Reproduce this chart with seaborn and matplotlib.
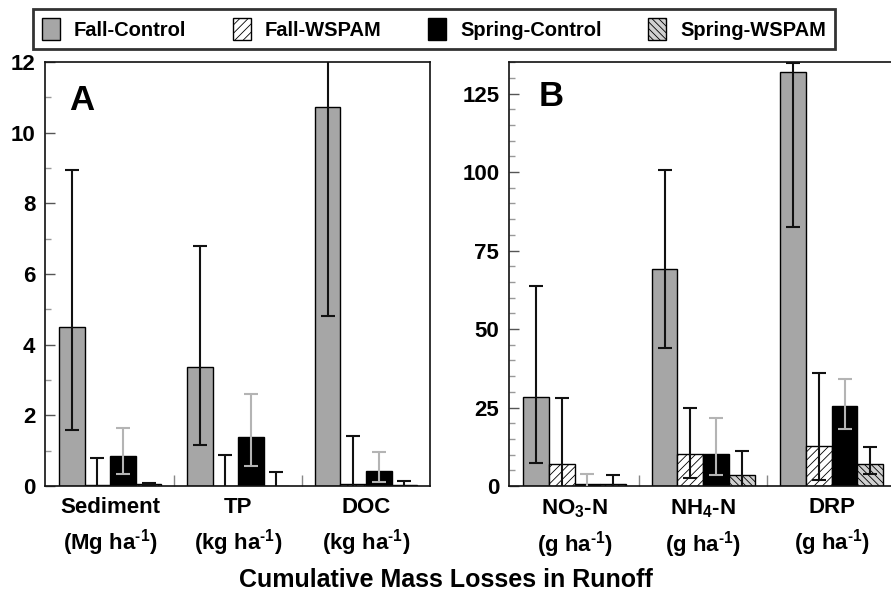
import numpy as np
import pandas as pd
import matplotlib
matplotlib.use("Agg")
import matplotlib.pyplot as plt
import seaborn as sns
from matplotlib.patches import Patch
from matplotlib.ticker import MultipleLocator, FixedLocator

# ---- data ----
treatments = ["Fall-Control", "Fall-WSPAM", "Spring-Control", "Spring-WSPAM"]

cats_a = ["Sediment\n(Mg ha$^{\\text{-}1}$)", "TP\n(kg ha$^{\\text{-}1}$)",
          "DOC\n(kg ha$^{\\text{-}1}$)"]
fall_control_a = [4.5, 3.38, 10.72]
fall_control_a_lo = [1.6, 1.17, 4.8]
fall_control_a_hi = [8.95, 6.8, 16.6]
fall_wspam_a = [0.02, 0.01, 0.06]
fall_wspam_a_lo = [-0.74, -0.86, -1.3]
fall_wspam_a_hi = [0.78, 0.88, 1.42]
spring_control_a = [0.84, 1.39, 0.42]
spring_control_a_lo = [0.33, 0.57, 0.12]
spring_control_a_hi = [1.63, 2.6, 0.96]
spring_wspam_a = [0.05, 0.01, 0.03]
spring_wspam_a_lo = [0.02, -0.37, -0.09]
spring_wspam_a_hi = [0.08, 0.39, 0.15]

cats_b = ["NO$_3$-N\n(g ha$^{\\text{-}1}$)", "NH$_4$-N\n(g ha$^{\\text{-}1}$)",
          "DRP\n(g ha$^{\\text{-}1}$)"]
fall_control_b = [28.2, 69.0, 132.0]
fall_control_b_lo = [7.3, 44.0, 82.5]
fall_control_b_hi = [63.8, 100.8, 134.6]
fall_wspam_b = [6.9, 10.2, 12.8]
fall_wspam_b_lo = [-14.2, 2.7, 1.8]
fall_wspam_b_hi = [28.0, 24.8, 36.0]
spring_control_b = [0.8, 10.3, 25.6]
spring_control_b_lo = [-2.2, 3.4, 18.1]
spring_control_b_hi = [3.8, 21.6, 34.1]
spring_wspam_b = [0.8, 3.5, 7.1]
spring_wspam_b_lo = [-1.9, -4.3, 3.7]
spring_wspam_b_hi = [3.5, 11.3, 12.3]

# ---- style ----
sns.set_style("ticks")
plt.rcParams["font.family"] = ["Liberation Sans", "DejaVu Sans"]
plt.rcParams["font.weight"] = "bold"
plt.rcParams["text.color"] = "black"
plt.rcParams["xtick.labelcolor"] = "black"
plt.rcParams["ytick.labelcolor"] = "black"
plt.rcParams["mathtext.fontset"] = "custom"
plt.rcParams["mathtext.rm"] = "Liberation Sans:bold"
plt.rcParams["mathtext.it"] = "Liberation Sans:bold"
plt.rcParams["mathtext.bf"] = "Liberation Sans:bold"
plt.rcParams["mathtext.default"] = "rm"
plt.rcParams["hatch.linewidth"] = 0.6

palette = {"Fall-Control": "#a6a6a6", "Fall-WSPAM": "white",
           "Spring-Control": "black", "Spring-WSPAM": "#d0d0d0"}
hatches = ["", "////", "", "\\\\\\\\\\"]
ecolors = ["#111111", "#111111", "#b4b4b4", "#111111"]


def panel(ax, cats, means, los, his, ymax, major, minor, letter, lx, ly):
    rows = []
    for t, vals in zip(treatments, means):
        for c, v in zip(cats, vals):
            rows.append({"item": c, "treatment": t, "value": v})
    df = pd.DataFrame(rows)
    sns.barplot(data=df, x="item", y="value", hue="treatment", order=cats,
                hue_order=treatments, palette=palette, saturation=1,
                edgecolor="black", linewidth=1.0, width=0.8, errorbar=None,
                legend=False, ax=ax)
    bar_conts = list(ax.containers)
    for i, cont in enumerate(bar_conts):
        xs = []
        for bar in cont.patches:
            bar.set_hatch(hatches[i])
            xs.append(bar.get_x() + bar.get_width() / 2)
        m = np.array(means[i])
        yerr = [m - np.array(los[i]), np.array(his[i]) - m]
        ax.errorbar(xs, m, yerr=yerr, fmt="none", ecolor=ecolors[i],
                    elinewidth=1.5, capsize=5, capthick=1.5, zorder=5)
    ax.set_xlim(-0.51, 2.5)
    ax.set_ylim(0, ymax)
    ax.set_xlabel("")
    ax.set_ylabel("")
    ax.set_xticks([0, 1, 2])
    ax.set_xticklabels(cats, fontsize=16, fontweight="bold", linespacing=1.42,
                       color="black")
    ax.xaxis.set_minor_locator(FixedLocator([0.5, 1.5]))
    ax.tick_params(axis="x", which="major", length=0, pad=8)
    ax.tick_params(axis="x", which="minor", direction="in", length=8,
                   width=1, color="#888888")
    ax.yaxis.set_major_locator(MultipleLocator(major))
    ax.yaxis.set_minor_locator(MultipleLocator(minor))
    ax.tick_params(axis="y", which="major", direction="in", length=7,
                   width=1, color="#555555", labelsize=16, pad=7)
    ax.tick_params(axis="y", which="minor", direction="in", length=4,
                   width=1, color="#999999")
    for lbl in ax.get_yticklabels():
        lbl.set_fontweight("bold")
    for s in ax.spines.values():
        s.set_visible(True)
        s.set_linewidth(1.2)
        s.set_color("#111111")
    ax.text(lx, ly, letter, transform=ax.transAxes, fontsize=25,
            fontweight="bold", ha="center", va="center")


fig = plt.figure(figsize=(8.91, 5.92), dpi=100)
ax_a = fig.add_axes([0.0505, 0.179, 0.432, 0.716])
ax_b = fig.add_axes([0.5713, 0.179, 0.4343, 0.716])

panel(ax_a, cats_a,
      [fall_control_a, fall_wspam_a, spring_control_a, spring_wspam_a],
      [fall_control_a_lo, fall_wspam_a_lo, spring_control_a_lo, spring_wspam_a_lo],
      [fall_control_a_hi, fall_wspam_a_hi, spring_control_a_hi, spring_wspam_a_hi],
      12, 2, 1, "A", 0.096, 0.91)
panel(ax_b, cats_b,
      [fall_control_b, fall_wspam_b, spring_control_b, spring_wspam_b],
      [fall_control_b_lo, fall_wspam_b_lo, spring_control_b_lo, spring_wspam_b_lo],
      [fall_control_b_hi, fall_wspam_b_hi, spring_control_b_hi, spring_wspam_b_hi],
      135, 25, 5, "B", 0.109, 0.918)

handles = [Patch(facecolor=palette[t], edgecolor="black", hatch=h, linewidth=1)
           for t, h in zip(treatments, hatches)]
leg = fig.legend(handles, treatments, loc="center", bbox_to_anchor=(0.487, 0.951),
                 ncol=4, frameon=True, fancybox=False, edgecolor="black",
                 prop={"size": 14.5, "weight": "bold"}, handlelength=0.9,
                 handleheight=1.25, columnspacing=2.3, handletextpad=0.7,
                 borderpad=0.45, borderaxespad=0)
leg.get_frame().set_linewidth(2)

fig.text(0.5, 1 - 580 / 592, "Cumulative Mass Losses in Runoff", ha="center",
         va="center", fontsize=18, fontweight="bold")

fig.savefig("out.png", dpi=100)
